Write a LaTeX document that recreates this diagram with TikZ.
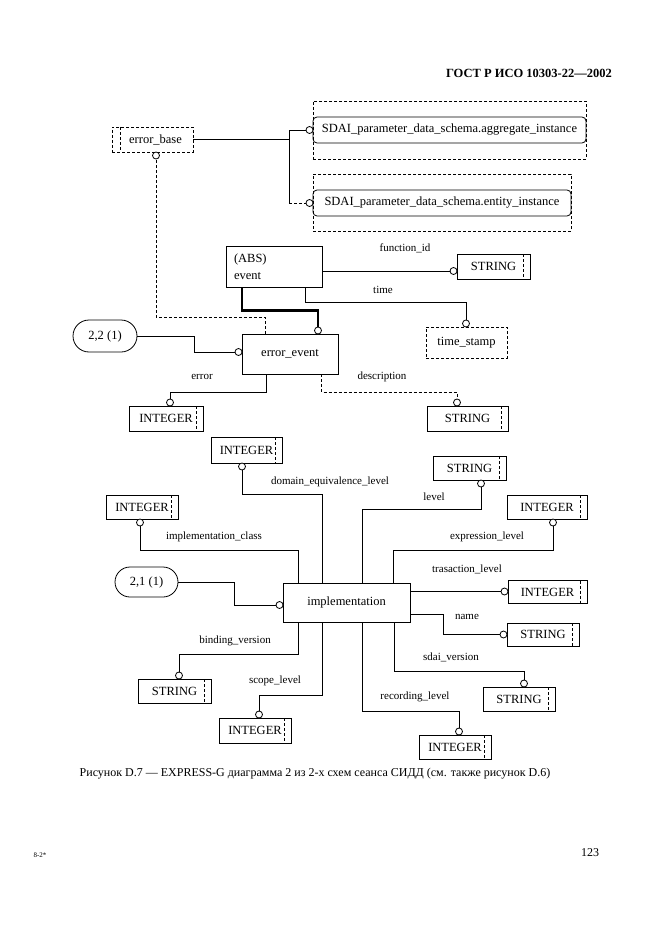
\documentclass[tikz,border=0pt]{standalone}
\usepackage{fontspec}
\setmainfont{Liberation Serif}
\usetikzlibrary{shapes.misc}
\begin{document}
\begin{tikzpicture}[x=1pt,y=-1pt,
  every node/.style={font=\fontsize{12.5}{17}\selectfont, inner sep=0pt},
  ln/.style={line width=0.8pt},
  thk/.style={line width=2.2pt},
  dsh/.style={dash pattern=on 3pt off 2pt},
  ent/.style={draw, line width=0.8pt},
  typbox/.style={draw, line width=0.8pt, path picture={\draw[line width=0.7pt,dsh] ([xshift=-7pt]path picture bounding box.north east) -- ([xshift=-7pt]path picture bounding box.south east);}},
  selbox/.style={draw, dsh, line width=0.8pt, path picture={\draw[line width=0.7pt,dsh] ([xshift=8pt]path picture bounding box.north west) -- ([xshift=8pt]path picture bounding box.south west);}},
  defbox/.style={draw, dsh, line width=0.8pt},
  refbox/.style={draw, rounded corners=4pt, line width=0.8pt},
  pageref/.style={draw, rounded rectangle, line width=0.8pt},
  circ/.style={draw, circle, fill=white, minimum size=7pt, inner sep=0pt, line width=0.8pt},
  lab/.style={font=\fontsize{11}{13}\selectfont}
]
\fill[white] (0,0) rectangle (661,936);
\useasboundingbox (0,0) rectangle (661,936);

% header
\node[anchor=east, font=\bfseries\fontsize{12.5}{15}\selectfont] (hdr) at (612,73) {ГОСТ Р ИСО 10303-22—2002};

% ---------- upper part ----------
\node[selbox, minimum width=81, minimum height=25] (errbase) at (152.5,139.5) {\hspace*{6pt}error\_base};
\node[defbox, minimum width=273, minimum height=58] (aggout) at (449.5,130) {};
\node[refbox, minimum width=273, minimum height=26] (agg) at (449.5,130) {SDAI\_parameter\_data\_schema.aggregate\_instance};
\node[defbox, minimum width=258, minimum height=57] (entout) at (442,202.5) {};
\node[refbox, minimum width=258, minimum height=26] (entb) at (442,203) {SDAI\_parameter\_data\_schema.entity\_instance};
\node[circ] (cagg) at (309.5,130) {};
\node[circ] (cent) at (309.5,203) {};
\node[circ] (cbase) at (156,155.5) {};

\draw[ln] (errbase.east) -- ++(96,0) coordinate (j1);
\draw[ln] (j1) |- (cagg.west);
\draw[ln] (j1) -- (j1 |- cent) coordinate (j2);
\draw[ln,dsh] (j2) -- (cent.west);

\node[ent, minimum width=96, minimum height=41, align=left, text width=80] (event) at (274,266.5) {(ABS)\\event};
\node[typbox, minimum width=73, minimum height=25] (sfid) at (493.5,266.5) {STRING};
\node[defbox, minimum width=81, minimum height=31] (ts) at (466.5,342.5) {time\_stamp};
\node[ent, minimum width=96, minimum height=40] (errev) at (290,354) {error\_event};
\node[pageref, minimum width=64, minimum height=32] (ref22) at (105,336) {2,2 (1)};
\node[typbox, minimum width=74, minimum height=25] (ierr) at (166,418.5) {INTEGER};
\node[typbox, minimum width=81, minimum height=25] (sdesc) at (467.5,418.5) {STRING};

\node[circ] (cfid) at (453.5,271) {};
\node[circ] (cts) at (466,323.5) {};
\node[circ] (csub) at (318,330.5) {};
\node[circ] (cref2) at (238.5,352) {};
\node[circ] (cerr) at (170,402.5) {};
\node[circ] (cdesc) at (457,402.5) {};

\draw[ln] ([yshift=-4.5pt]event.east) -- (cfid.west);
\draw[ln] ([xshift=80pt]event.south west) -- ++(0,15) -| (cts.north);
\draw[thk] ([xshift=16pt]event.south west) -- ++(0,23) -| (csub.north);
\draw[ln,dsh] ([xshift=24pt]errev.north west) -- ++(0,-16) -| (cbase.south);
\draw[ln] (ref22.east) -- ++(57,0) |- (cref2.west);
\draw[ln] ([xshift=25pt]errev.south west) -- ++(0,18) -| (cerr.north);
\draw[ln,dsh] ([xshift=80pt]errev.south west) -- ++(0,18) -| (cdesc.north);

\node[lab] (lfid) at (405,248) {function\_id};
\node[lab] (ltime) at (383,290) {time};
\node[lab] (lerr) at (202,377) {error};
\node[lab] (ldesc) at (382,377) {description};

% ---------- lower part ----------
\node[ent, minimum width=127, minimum height=39] (impl) at (346.5,602.5) {implementation};
\node[typbox, minimum width=71, minimum height=26] (idom) at (246.5,450) {INTEGER};
\node[typbox, minimum width=73, minimum height=24] (slev) at (469.5,468) {STRING};
\node[typbox, minimum width=72, minimum height=24] (iic) at (142,507) {INTEGER};
\node[typbox, minimum width=80, minimum height=24] (iexp) at (547,507) {INTEGER};
\node[pageref, minimum width=63, minimum height=30] (ref21) at (146.5,582) {2,1 (1)};
\node[typbox, minimum width=79, minimum height=23] (itr) at (547.5,592) {INTEGER};
\node[typbox, minimum width=72, minimum height=23] (sname) at (543,634.5) {STRING};
\node[typbox, minimum width=73, minimum height=24] (sbind) at (174.5,691) {STRING};
\node[typbox, minimum width=72, minimum height=25] (iscope) at (255,730.5) {INTEGER};
\node[typbox, minimum width=72, minimum height=24] (irec) at (455,747) {INTEGER};
\node[typbox, minimum width=72, minimum height=24] (ssdai) at (519,699) {STRING};

\node[circ] (cdom) at (242,466.5) {};
\node[circ] (clev) at (481,483.5) {};
\node[circ] (cic) at (140,522.5) {};
\node[circ] (cexp) at (553,522.5) {};
\node[circ] (cref1) at (279.5,605) {};
\node[circ] (ctr) at (504.5,591.5) {};
\node[circ] (cname) at (503.5,634.5) {};
\node[circ] (cbind) at (179,675.5) {};
\node[circ] (cscope) at (259,714.5) {};
\node[circ] (crec) at (459,731.5) {};
\node[circ] (csdai) at (524,683.5) {};

\draw[ln] ([xshift=40pt]impl.north west) -- ++(0,-88) -| (cdom.south);
\draw[ln] ([xshift=80pt]impl.north west) -- ++(0,-73) -| (clev.south);
\draw[ln] ([xshift=16pt]impl.north west) -- ++(0,-32) -| (cic.south);
\draw[ln] ([xshift=111pt]impl.north west) -- ++(0,-32) -| (cexp.south);
\draw[ln] (ref21.east) -- ++(56,0) |- (cref1.west);
\draw[ln] ([yshift=11pt]impl.east) -- (ctr.west);
\draw[ln] ([yshift=-12pt]impl.east) -- ++(33,0) |- (cname.west);
\draw[ln] ([xshift=16pt]impl.south west) -- ++(0,32) -| (cbind.north);
\draw[ln] ([xshift=40pt]impl.south west) -- ++(0,73) -| (cscope.north);
\draw[ln] ([xshift=80pt]impl.south west) -- ++(0,89) -| (crec.north);
\draw[ln] ([xshift=112pt]impl.south west) -- ++(0,49) -| (csdai.north);

\node[lab] (ldom) at (330,482) {domain\_equivalence\_level};
\node[lab] (llev) at (434,497) {level};
\node[lab] (lic) at (214,537) {implementation\_class};
\node[lab] (lexp) at (487,537) {expression\_level};
\node[lab] (ltr) at (467,569) {trasaction\_level};
\node[lab] (lname) at (467,617) {name};
\node[lab] (lbind) at (235,641) {binding\_version};
\node[lab] (lscope) at (275,681) {scope\_level};
\node[lab] (lrec) at (415,697) {recording\_level};
\node[lab] (lsdai) at (451,657) {sdai\_version};

% caption and footer
\node[font=\fontsize{12}{14}\selectfont] (cap) at (315,774) {Рисунок D.7 — EXPRESS-G диаграмма 2 из 2-х схем сеанса СИДД (см. также рисунок D.6)};
\node[font=\fontsize{7}{8}\selectfont] (sig) at (40,855) {8-2*};
\node[font=\fontsize{12}{14}\selectfont] (pg) at (590,853) {123};
\end{tikzpicture}
\end{document}
